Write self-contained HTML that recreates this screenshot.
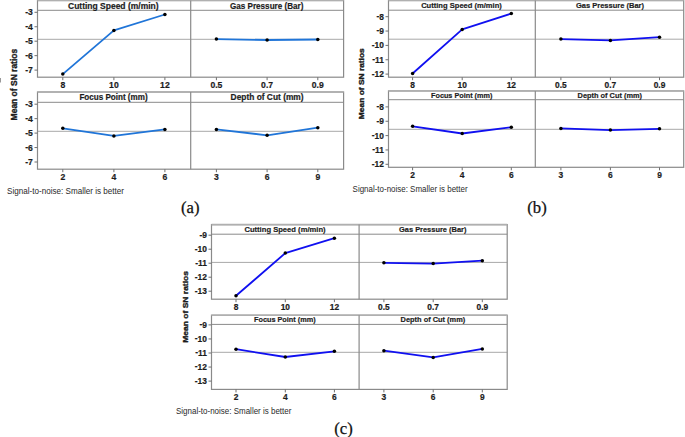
<!DOCTYPE html>
<html><head><meta charset="utf-8">
<style>
html,body{margin:0;padding:0;background:#fff;}
body{width:685px;height:437px;overflow:hidden;}
svg{display:block;}
.t{font-family:"Liberation Sans", sans-serif;font-weight:bold;fill:#1c1c1c;stroke:#1c1c1c;stroke-width:0.2px;}
.k{font-family:"Liberation Sans", sans-serif;font-weight:bold;fill:#1c1c1c;stroke:#1c1c1c;stroke-width:0.2px;}
.y{font-family:"Liberation Sans", sans-serif;font-weight:bold;fill:#1c1c1c;stroke:#1c1c1c;stroke-width:0.35px;}
.r{font-family:"Liberation Sans", sans-serif;font-size:9px;fill:#2a2a2a;}
.c{font-family:"Liberation Serif", serif;font-size:16.7px;fill:#111;stroke:#111;stroke-width:0.25px;}
</style></head><body>
<svg width="685" height="437" viewBox="0 0 685 437">
<rect width="685" height="437" fill="#fff"/>
<line x1="37.5" y1="39.3" x2="343.6" y2="39.3" stroke="#a8a8a8" stroke-width="1"/>
<rect x="37.5" y="0.5" width="306.1" height="76.7" fill="none" stroke="#8a8a8a" stroke-width="1.2"/>
<line x1="37.5" y1="0.5" x2="343.6" y2="0.5" stroke="#b0b0b0" stroke-width="1.6"/>
<line x1="37.5" y1="10.3" x2="343.6" y2="10.3" stroke="#8a8a8a" stroke-width="1"/>
<line x1="190.7" y1="0.5" x2="190.7" y2="77.2" stroke="#8a8a8a" stroke-width="1.2"/>
<line x1="34.5" y1="12.3" x2="37.5" y2="12.3" stroke="#707070" stroke-width="1"/>
<text x="32.9" y="15.4" text-anchor="end" class="k" style="font-size:8.6px"><tspan dy="-0.6">-</tspan><tspan dy="0.6">3</tspan></text>
<line x1="34.5" y1="26.75" x2="37.5" y2="26.75" stroke="#707070" stroke-width="1"/>
<text x="32.9" y="29.85" text-anchor="end" class="k" style="font-size:8.6px"><tspan dy="-0.6">-</tspan><tspan dy="0.6">4</tspan></text>
<line x1="34.5" y1="41.2" x2="37.5" y2="41.2" stroke="#707070" stroke-width="1"/>
<text x="32.9" y="44.3" text-anchor="end" class="k" style="font-size:8.6px"><tspan dy="-0.6">-</tspan><tspan dy="0.6">5</tspan></text>
<line x1="34.5" y1="55.65" x2="37.5" y2="55.65" stroke="#707070" stroke-width="1"/>
<text x="32.9" y="58.75" text-anchor="end" class="k" style="font-size:8.6px"><tspan dy="-0.6">-</tspan><tspan dy="0.6">6</tspan></text>
<line x1="34.5" y1="70.1" x2="37.5" y2="70.1" stroke="#707070" stroke-width="1"/>
<text x="32.9" y="73.2" text-anchor="end" class="k" style="font-size:8.6px"><tspan dy="-0.6">-</tspan><tspan dy="0.6">7</tspan></text>
<line x1="62.8" y1="77.2" x2="62.8" y2="80.2" stroke="#707070" stroke-width="1"/>
<text x="62.8" y="88.3" text-anchor="middle" class="k" style="font-size:8.6px">8</text>
<line x1="113.9" y1="77.2" x2="113.9" y2="80.2" stroke="#707070" stroke-width="1"/>
<text x="113.9" y="88.3" text-anchor="middle" class="k" style="font-size:8.6px">10</text>
<line x1="164.9" y1="77.2" x2="164.9" y2="80.2" stroke="#707070" stroke-width="1"/>
<text x="164.9" y="88.3" text-anchor="middle" class="k" style="font-size:8.6px">12</text>
<line x1="216.4" y1="77.2" x2="216.4" y2="80.2" stroke="#707070" stroke-width="1"/>
<text x="216.4" y="88.3" text-anchor="middle" class="k" style="font-size:8.6px">0.5</text>
<line x1="267.1" y1="77.2" x2="267.1" y2="80.2" stroke="#707070" stroke-width="1"/>
<text x="267.1" y="88.3" text-anchor="middle" class="k" style="font-size:8.6px">0.7</text>
<line x1="317.8" y1="77.2" x2="317.8" y2="80.2" stroke="#707070" stroke-width="1"/>
<text x="317.8" y="88.3" text-anchor="middle" class="k" style="font-size:8.6px">0.9</text>
<text x="113.3" y="8.6" text-anchor="middle" class="t" style="font-size:8.6px" textLength="90.6" lengthAdjust="spacingAndGlyphs">Cutting Speed (m/min)</text>
<text x="266.7" y="8.6" text-anchor="middle" class="t" style="font-size:8.6px" textLength="73.4" lengthAdjust="spacingAndGlyphs">Gas Pressure (Bar)</text>
<polyline points="62.8,74.1 113.9,30.4 164.9,14.5" fill="none" stroke="#2075d8" stroke-width="1.8" stroke-linejoin="round"/>
<circle cx="62.8" cy="74.1" r="1.75" fill="#000"/>
<circle cx="113.9" cy="30.4" r="1.75" fill="#000"/>
<circle cx="164.9" cy="14.5" r="1.75" fill="#000"/>
<polyline points="216.4,39.1 267.1,40 317.8,39.5" fill="none" stroke="#2075d8" stroke-width="1.8" stroke-linejoin="round"/>
<circle cx="216.4" cy="39.1" r="1.75" fill="#000"/>
<circle cx="267.1" cy="40" r="1.75" fill="#000"/>
<circle cx="317.8" cy="39.5" r="1.75" fill="#000"/>
<line x1="37.5" y1="131.3" x2="343.6" y2="131.3" stroke="#a8a8a8" stroke-width="1"/>
<rect x="37.5" y="92" width="306.1" height="77.2" fill="none" stroke="#8a8a8a" stroke-width="1.2"/>
<line x1="37.5" y1="92" x2="343.6" y2="92" stroke="#b0b0b0" stroke-width="1.6"/>
<line x1="37.5" y1="102.3" x2="343.6" y2="102.3" stroke="#8a8a8a" stroke-width="1"/>
<line x1="190.7" y1="92" x2="190.7" y2="169.2" stroke="#8a8a8a" stroke-width="1.2"/>
<line x1="34.5" y1="104.2" x2="37.5" y2="104.2" stroke="#707070" stroke-width="1"/>
<text x="32.9" y="107.3" text-anchor="end" class="k" style="font-size:8.6px"><tspan dy="-0.6">-</tspan><tspan dy="0.6">3</tspan></text>
<line x1="34.5" y1="118.65" x2="37.5" y2="118.65" stroke="#707070" stroke-width="1"/>
<text x="32.9" y="121.75" text-anchor="end" class="k" style="font-size:8.6px"><tspan dy="-0.6">-</tspan><tspan dy="0.6">4</tspan></text>
<line x1="34.5" y1="133.1" x2="37.5" y2="133.1" stroke="#707070" stroke-width="1"/>
<text x="32.9" y="136.2" text-anchor="end" class="k" style="font-size:8.6px"><tspan dy="-0.6">-</tspan><tspan dy="0.6">5</tspan></text>
<line x1="34.5" y1="147.55" x2="37.5" y2="147.55" stroke="#707070" stroke-width="1"/>
<text x="32.9" y="150.65" text-anchor="end" class="k" style="font-size:8.6px"><tspan dy="-0.6">-</tspan><tspan dy="0.6">6</tspan></text>
<line x1="34.5" y1="162" x2="37.5" y2="162" stroke="#707070" stroke-width="1"/>
<text x="32.9" y="165.1" text-anchor="end" class="k" style="font-size:8.6px"><tspan dy="-0.6">-</tspan><tspan dy="0.6">7</tspan></text>
<line x1="62.8" y1="169.2" x2="62.8" y2="172.2" stroke="#707070" stroke-width="1"/>
<text x="62.8" y="180" text-anchor="middle" class="k" style="font-size:8.6px">2</text>
<line x1="113.9" y1="169.2" x2="113.9" y2="172.2" stroke="#707070" stroke-width="1"/>
<text x="113.9" y="180" text-anchor="middle" class="k" style="font-size:8.6px">4</text>
<line x1="164.9" y1="169.2" x2="164.9" y2="172.2" stroke="#707070" stroke-width="1"/>
<text x="164.9" y="180" text-anchor="middle" class="k" style="font-size:8.6px">6</text>
<line x1="216.4" y1="169.2" x2="216.4" y2="172.2" stroke="#707070" stroke-width="1"/>
<text x="216.4" y="180" text-anchor="middle" class="k" style="font-size:8.6px">3</text>
<line x1="267.1" y1="169.2" x2="267.1" y2="172.2" stroke="#707070" stroke-width="1"/>
<text x="267.1" y="180" text-anchor="middle" class="k" style="font-size:8.6px">6</text>
<line x1="317.8" y1="169.2" x2="317.8" y2="172.2" stroke="#707070" stroke-width="1"/>
<text x="317.8" y="180" text-anchor="middle" class="k" style="font-size:8.6px">9</text>
<text x="113.5" y="100" text-anchor="middle" class="t" style="font-size:8.6px" textLength="68.2" lengthAdjust="spacingAndGlyphs">Focus Point (mm)</text>
<text x="267.1" y="100" text-anchor="middle" class="t" style="font-size:8.6px" textLength="73" lengthAdjust="spacingAndGlyphs">Depth of Cut (mm)</text>
<polyline points="62.8,128.3 113.9,135.9 164.9,129.4" fill="none" stroke="#2075d8" stroke-width="1.8" stroke-linejoin="round"/>
<circle cx="62.8" cy="128.3" r="1.75" fill="#000"/>
<circle cx="113.9" cy="135.9" r="1.75" fill="#000"/>
<circle cx="164.9" cy="129.4" r="1.75" fill="#000"/>
<polyline points="216.4,129.4 267.1,135.3 317.8,127.7" fill="none" stroke="#2075d8" stroke-width="1.8" stroke-linejoin="round"/>
<circle cx="216.4" cy="129.4" r="1.75" fill="#000"/>
<circle cx="267.1" cy="135.3" r="1.75" fill="#000"/>
<circle cx="317.8" cy="127.7" r="1.75" fill="#000"/>
<text transform="translate(17,84.6) rotate(-90)" text-anchor="middle" class="y" style="font-size:8.6px" textLength="71.6" lengthAdjust="spacingAndGlyphs">Mean of SN ratios</text>
<text x="7" y="194.4" class="r" textLength="117" lengthAdjust="spacingAndGlyphs">Signal-to-noise: Smaller is better</text>
<text x="190.3" y="212.5" text-anchor="middle" class="c">(a)</text>
<line x1="388.5" y1="39.2" x2="683.7" y2="39.2" stroke="#a8a8a8" stroke-width="1"/>
<rect x="388.5" y="0.5" width="295.2" height="76.7" fill="none" stroke="#8a8a8a" stroke-width="1.2"/>
<line x1="388.5" y1="0.5" x2="683.7" y2="0.5" stroke="#b0b0b0" stroke-width="1.6"/>
<line x1="388.5" y1="10.2" x2="683.7" y2="10.2" stroke="#8a8a8a" stroke-width="1"/>
<line x1="535.3" y1="0.5" x2="535.3" y2="77.2" stroke="#8a8a8a" stroke-width="1.2"/>
<line x1="385.5" y1="16.7" x2="388.5" y2="16.7" stroke="#707070" stroke-width="1"/>
<text x="383.9" y="19.72" text-anchor="end" class="k" style="font-size:8.4px"><tspan dy="-0.6">-</tspan><tspan dy="0.6">8</tspan></text>
<line x1="385.5" y1="31.05" x2="388.5" y2="31.05" stroke="#707070" stroke-width="1"/>
<text x="383.9" y="34.07" text-anchor="end" class="k" style="font-size:8.4px"><tspan dy="-0.6">-</tspan><tspan dy="0.6">9</tspan></text>
<line x1="385.5" y1="45.4" x2="388.5" y2="45.4" stroke="#707070" stroke-width="1"/>
<text x="383.9" y="48.42" text-anchor="end" class="k" style="font-size:8.4px"><tspan dy="-0.6">-</tspan><tspan dy="0.6">10</tspan></text>
<line x1="385.5" y1="59.75" x2="388.5" y2="59.75" stroke="#707070" stroke-width="1"/>
<text x="383.9" y="62.77" text-anchor="end" class="k" style="font-size:8.4px"><tspan dy="-0.6">-</tspan><tspan dy="0.6">11</tspan></text>
<line x1="385.5" y1="74.1" x2="388.5" y2="74.1" stroke="#707070" stroke-width="1"/>
<text x="383.9" y="77.12" text-anchor="end" class="k" style="font-size:8.4px"><tspan dy="-0.6">-</tspan><tspan dy="0.6">12</tspan></text>
<line x1="412.6" y1="77.2" x2="412.6" y2="80.2" stroke="#707070" stroke-width="1"/>
<text x="412.6" y="87.92" text-anchor="middle" class="k" style="font-size:8.4px">8</text>
<line x1="462.2" y1="77.2" x2="462.2" y2="80.2" stroke="#707070" stroke-width="1"/>
<text x="462.2" y="87.92" text-anchor="middle" class="k" style="font-size:8.4px">10</text>
<line x1="511.3" y1="77.2" x2="511.3" y2="80.2" stroke="#707070" stroke-width="1"/>
<text x="511.3" y="87.92" text-anchor="middle" class="k" style="font-size:8.4px">12</text>
<line x1="560.9" y1="77.2" x2="560.9" y2="80.2" stroke="#707070" stroke-width="1"/>
<text x="560.9" y="87.92" text-anchor="middle" class="k" style="font-size:8.4px">0.5</text>
<line x1="610.4" y1="77.2" x2="610.4" y2="80.2" stroke="#707070" stroke-width="1"/>
<text x="610.4" y="87.92" text-anchor="middle" class="k" style="font-size:8.4px">0.7</text>
<line x1="659.5" y1="77.2" x2="659.5" y2="80.2" stroke="#707070" stroke-width="1"/>
<text x="659.5" y="87.92" text-anchor="middle" class="k" style="font-size:8.4px">0.9</text>
<text x="461.5" y="7.8" text-anchor="middle" class="t" style="font-size:8.0px" textLength="80.7" lengthAdjust="spacingAndGlyphs">Cutting Speed (m/min)</text>
<text x="610" y="7.8" text-anchor="middle" class="t" style="font-size:8.0px" textLength="68" lengthAdjust="spacingAndGlyphs">Gas Pressure (Bar)</text>
<polyline points="412.6,73.5 462.2,29.4 511.3,13.6" fill="none" stroke="#1010f0" stroke-width="1.8" stroke-linejoin="round"/>
<circle cx="412.6" cy="73.5" r="1.75" fill="#000"/>
<circle cx="462.2" cy="29.4" r="1.75" fill="#000"/>
<circle cx="511.3" cy="13.6" r="1.75" fill="#000"/>
<polyline points="560.9,39.1 610.4,40.4 659.5,37.2" fill="none" stroke="#1010f0" stroke-width="1.8" stroke-linejoin="round"/>
<circle cx="560.9" cy="39.1" r="1.75" fill="#000"/>
<circle cx="610.4" cy="40.4" r="1.75" fill="#000"/>
<circle cx="659.5" cy="37.2" r="1.75" fill="#000"/>
<line x1="388.5" y1="129.3" x2="683.7" y2="129.3" stroke="#a8a8a8" stroke-width="1"/>
<rect x="388.5" y="90.9" width="295.2" height="76.4" fill="none" stroke="#8a8a8a" stroke-width="1.2"/>
<line x1="388.5" y1="90.9" x2="683.7" y2="90.9" stroke="#b0b0b0" stroke-width="1.6"/>
<line x1="388.5" y1="99.7" x2="683.7" y2="99.7" stroke="#8a8a8a" stroke-width="1"/>
<line x1="535.3" y1="90.9" x2="535.3" y2="167.3" stroke="#8a8a8a" stroke-width="1.2"/>
<line x1="385.5" y1="106.9" x2="388.5" y2="106.9" stroke="#707070" stroke-width="1"/>
<text x="383.9" y="109.92" text-anchor="end" class="k" style="font-size:8.4px"><tspan dy="-0.6">-</tspan><tspan dy="0.6">8</tspan></text>
<line x1="385.5" y1="121.25" x2="388.5" y2="121.25" stroke="#707070" stroke-width="1"/>
<text x="383.9" y="124.27" text-anchor="end" class="k" style="font-size:8.4px"><tspan dy="-0.6">-</tspan><tspan dy="0.6">9</tspan></text>
<line x1="385.5" y1="135.6" x2="388.5" y2="135.6" stroke="#707070" stroke-width="1"/>
<text x="383.9" y="138.62" text-anchor="end" class="k" style="font-size:8.4px"><tspan dy="-0.6">-</tspan><tspan dy="0.6">10</tspan></text>
<line x1="385.5" y1="149.95" x2="388.5" y2="149.95" stroke="#707070" stroke-width="1"/>
<text x="383.9" y="152.97" text-anchor="end" class="k" style="font-size:8.4px"><tspan dy="-0.6">-</tspan><tspan dy="0.6">11</tspan></text>
<line x1="385.5" y1="164.3" x2="388.5" y2="164.3" stroke="#707070" stroke-width="1"/>
<text x="383.9" y="167.32" text-anchor="end" class="k" style="font-size:8.4px"><tspan dy="-0.6">-</tspan><tspan dy="0.6">12</tspan></text>
<line x1="412.6" y1="167.3" x2="412.6" y2="170.3" stroke="#707070" stroke-width="1"/>
<text x="412.6" y="178.02" text-anchor="middle" class="k" style="font-size:8.4px">2</text>
<line x1="462.2" y1="167.3" x2="462.2" y2="170.3" stroke="#707070" stroke-width="1"/>
<text x="462.2" y="178.02" text-anchor="middle" class="k" style="font-size:8.4px">4</text>
<line x1="511.3" y1="167.3" x2="511.3" y2="170.3" stroke="#707070" stroke-width="1"/>
<text x="511.3" y="178.02" text-anchor="middle" class="k" style="font-size:8.4px">6</text>
<line x1="560.9" y1="167.3" x2="560.9" y2="170.3" stroke="#707070" stroke-width="1"/>
<text x="560.9" y="178.02" text-anchor="middle" class="k" style="font-size:8.4px">3</text>
<line x1="610.4" y1="167.3" x2="610.4" y2="170.3" stroke="#707070" stroke-width="1"/>
<text x="610.4" y="178.02" text-anchor="middle" class="k" style="font-size:8.4px">6</text>
<line x1="659.5" y1="167.3" x2="659.5" y2="170.3" stroke="#707070" stroke-width="1"/>
<text x="659.5" y="178.02" text-anchor="middle" class="k" style="font-size:8.4px">9</text>
<text x="461.7" y="97.6" text-anchor="middle" class="t" style="font-size:8.0px" textLength="61.4" lengthAdjust="spacingAndGlyphs">Focus Point (mm)</text>
<text x="609.8" y="97.6" text-anchor="middle" class="t" style="font-size:8.0px" textLength="64.4" lengthAdjust="spacingAndGlyphs">Depth of Cut (mm)</text>
<polyline points="412.6,126.3 462.2,133.5 511.3,127.3" fill="none" stroke="#1010f0" stroke-width="1.8" stroke-linejoin="round"/>
<circle cx="412.6" cy="126.3" r="1.75" fill="#000"/>
<circle cx="462.2" cy="133.5" r="1.75" fill="#000"/>
<circle cx="511.3" cy="127.3" r="1.75" fill="#000"/>
<polyline points="560.9,128.4 610.4,130.1 659.5,128.8" fill="none" stroke="#1010f0" stroke-width="1.8" stroke-linejoin="round"/>
<circle cx="560.9" cy="128.4" r="1.75" fill="#000"/>
<circle cx="610.4" cy="130.1" r="1.75" fill="#000"/>
<circle cx="659.5" cy="128.8" r="1.75" fill="#000"/>
<text transform="translate(364.4,83.7) rotate(-90)" text-anchor="middle" class="y" style="font-size:8.0px" textLength="70.9" lengthAdjust="spacingAndGlyphs">Mean of SN ratios</text>
<text x="352.6" y="192.4" class="r" textLength="115" lengthAdjust="spacingAndGlyphs">Signal-to-noise: Smaller is better</text>
<text x="537" y="212.6" text-anchor="middle" class="c">(b)</text>
<line x1="211.5" y1="262.4" x2="507.2" y2="262.4" stroke="#a8a8a8" stroke-width="1"/>
<rect x="211.5" y="224.6" width="295.7" height="74.6" fill="none" stroke="#8a8a8a" stroke-width="1.2"/>
<line x1="211.5" y1="224.6" x2="507.2" y2="224.6" stroke="#b0b0b0" stroke-width="1.6"/>
<line x1="211.5" y1="234.2" x2="507.2" y2="234.2" stroke="#8a8a8a" stroke-width="1"/>
<line x1="359.1" y1="224.6" x2="359.1" y2="299.2" stroke="#8a8a8a" stroke-width="1.2"/>
<line x1="208.5" y1="235.2" x2="211.5" y2="235.2" stroke="#707070" stroke-width="1"/>
<text x="206.9" y="238.22" text-anchor="end" class="k" style="font-size:8.4px"><tspan dy="-0.6">-</tspan><tspan dy="0.6">9</tspan></text>
<line x1="208.5" y1="249.2" x2="211.5" y2="249.2" stroke="#707070" stroke-width="1"/>
<text x="206.9" y="252.22" text-anchor="end" class="k" style="font-size:8.4px"><tspan dy="-0.6">-</tspan><tspan dy="0.6">10</tspan></text>
<line x1="208.5" y1="263.2" x2="211.5" y2="263.2" stroke="#707070" stroke-width="1"/>
<text x="206.9" y="266.22" text-anchor="end" class="k" style="font-size:8.4px"><tspan dy="-0.6">-</tspan><tspan dy="0.6">11</tspan></text>
<line x1="208.5" y1="277.2" x2="211.5" y2="277.2" stroke="#707070" stroke-width="1"/>
<text x="206.9" y="280.22" text-anchor="end" class="k" style="font-size:8.4px"><tspan dy="-0.6">-</tspan><tspan dy="0.6">12</tspan></text>
<line x1="208.5" y1="291.2" x2="211.5" y2="291.2" stroke="#707070" stroke-width="1"/>
<text x="206.9" y="294.22" text-anchor="end" class="k" style="font-size:8.4px"><tspan dy="-0.6">-</tspan><tspan dy="0.6">13</tspan></text>
<line x1="236" y1="299.2" x2="236" y2="302.2" stroke="#707070" stroke-width="1"/>
<text x="236" y="309.52" text-anchor="middle" class="k" style="font-size:8.4px">8</text>
<line x1="285.3" y1="299.2" x2="285.3" y2="302.2" stroke="#707070" stroke-width="1"/>
<text x="285.3" y="309.52" text-anchor="middle" class="k" style="font-size:8.4px">10</text>
<line x1="334.4" y1="299.2" x2="334.4" y2="302.2" stroke="#707070" stroke-width="1"/>
<text x="334.4" y="309.52" text-anchor="middle" class="k" style="font-size:8.4px">12</text>
<line x1="383.9" y1="299.2" x2="383.9" y2="302.2" stroke="#707070" stroke-width="1"/>
<text x="383.9" y="309.52" text-anchor="middle" class="k" style="font-size:8.4px">0.5</text>
<line x1="433.2" y1="299.2" x2="433.2" y2="302.2" stroke="#707070" stroke-width="1"/>
<text x="433.2" y="309.52" text-anchor="middle" class="k" style="font-size:8.4px">0.7</text>
<line x1="482.3" y1="299.2" x2="482.3" y2="302.2" stroke="#707070" stroke-width="1"/>
<text x="482.3" y="309.52" text-anchor="middle" class="k" style="font-size:8.4px">0.9</text>
<text x="285" y="232" text-anchor="middle" class="t" style="font-size:8.0px" textLength="81.2" lengthAdjust="spacingAndGlyphs">Cutting Speed (m/min)</text>
<text x="432.7" y="232" text-anchor="middle" class="t" style="font-size:8.0px" textLength="67.4" lengthAdjust="spacingAndGlyphs">Gas Pressure (Bar)</text>
<polyline points="236,295.8 285.3,253.1 334.4,238.2" fill="none" stroke="#1010f0" stroke-width="1.8" stroke-linejoin="round"/>
<circle cx="236" cy="295.8" r="1.75" fill="#000"/>
<circle cx="285.3" cy="253.1" r="1.75" fill="#000"/>
<circle cx="334.4" cy="238.2" r="1.75" fill="#000"/>
<polyline points="383.9,262.8 433.2,263.6 482.3,260.7" fill="none" stroke="#1010f0" stroke-width="1.8" stroke-linejoin="round"/>
<circle cx="383.9" cy="262.8" r="1.75" fill="#000"/>
<circle cx="433.2" cy="263.6" r="1.75" fill="#000"/>
<circle cx="482.3" cy="260.7" r="1.75" fill="#000"/>
<line x1="211.5" y1="352.3" x2="507.2" y2="352.3" stroke="#a8a8a8" stroke-width="1"/>
<rect x="211.5" y="315.2" width="295.7" height="74.2" fill="none" stroke="#8a8a8a" stroke-width="1.2"/>
<line x1="211.5" y1="315.2" x2="507.2" y2="315.2" stroke="#b0b0b0" stroke-width="1.6"/>
<line x1="211.5" y1="324.4" x2="507.2" y2="324.4" stroke="#8a8a8a" stroke-width="1"/>
<line x1="359.1" y1="315.2" x2="359.1" y2="389.4" stroke="#8a8a8a" stroke-width="1.2"/>
<line x1="208.5" y1="324.9" x2="211.5" y2="324.9" stroke="#707070" stroke-width="1"/>
<text x="206.9" y="327.92" text-anchor="end" class="k" style="font-size:8.4px"><tspan dy="-0.6">-</tspan><tspan dy="0.6">9</tspan></text>
<line x1="208.5" y1="338.95" x2="211.5" y2="338.95" stroke="#707070" stroke-width="1"/>
<text x="206.9" y="341.97" text-anchor="end" class="k" style="font-size:8.4px"><tspan dy="-0.6">-</tspan><tspan dy="0.6">10</tspan></text>
<line x1="208.5" y1="353" x2="211.5" y2="353" stroke="#707070" stroke-width="1"/>
<text x="206.9" y="356.02" text-anchor="end" class="k" style="font-size:8.4px"><tspan dy="-0.6">-</tspan><tspan dy="0.6">11</tspan></text>
<line x1="208.5" y1="367.05" x2="211.5" y2="367.05" stroke="#707070" stroke-width="1"/>
<text x="206.9" y="370.07" text-anchor="end" class="k" style="font-size:8.4px"><tspan dy="-0.6">-</tspan><tspan dy="0.6">12</tspan></text>
<line x1="208.5" y1="381.1" x2="211.5" y2="381.1" stroke="#707070" stroke-width="1"/>
<text x="206.9" y="384.12" text-anchor="end" class="k" style="font-size:8.4px"><tspan dy="-0.6">-</tspan><tspan dy="0.6">13</tspan></text>
<line x1="236" y1="389.4" x2="236" y2="392.4" stroke="#707070" stroke-width="1"/>
<text x="236" y="400.32" text-anchor="middle" class="k" style="font-size:8.4px">2</text>
<line x1="285.3" y1="389.4" x2="285.3" y2="392.4" stroke="#707070" stroke-width="1"/>
<text x="285.3" y="400.32" text-anchor="middle" class="k" style="font-size:8.4px">4</text>
<line x1="334.4" y1="389.4" x2="334.4" y2="392.4" stroke="#707070" stroke-width="1"/>
<text x="334.4" y="400.32" text-anchor="middle" class="k" style="font-size:8.4px">6</text>
<line x1="383.9" y1="389.4" x2="383.9" y2="392.4" stroke="#707070" stroke-width="1"/>
<text x="383.9" y="400.32" text-anchor="middle" class="k" style="font-size:8.4px">3</text>
<line x1="433.2" y1="389.4" x2="433.2" y2="392.4" stroke="#707070" stroke-width="1"/>
<text x="433.2" y="400.32" text-anchor="middle" class="k" style="font-size:8.4px">6</text>
<line x1="482.3" y1="389.4" x2="482.3" y2="392.4" stroke="#707070" stroke-width="1"/>
<text x="482.3" y="400.32" text-anchor="middle" class="k" style="font-size:8.4px">9</text>
<text x="284.8" y="322.4" text-anchor="middle" class="t" style="font-size:8.0px" textLength="61.6" lengthAdjust="spacingAndGlyphs">Focus Point (mm)</text>
<text x="432.9" y="322.4" text-anchor="middle" class="t" style="font-size:8.0px" textLength="64.6" lengthAdjust="spacingAndGlyphs">Depth of Cut (mm)</text>
<polyline points="236,349.2 285.3,357 334.4,351.3" fill="none" stroke="#1010f0" stroke-width="1.8" stroke-linejoin="round"/>
<circle cx="236" cy="349.2" r="1.75" fill="#000"/>
<circle cx="285.3" cy="357" r="1.75" fill="#000"/>
<circle cx="334.4" cy="351.3" r="1.75" fill="#000"/>
<polyline points="383.9,350.7 433.2,357.4 482.3,348.9" fill="none" stroke="#1010f0" stroke-width="1.8" stroke-linejoin="round"/>
<circle cx="383.9" cy="350.7" r="1.75" fill="#000"/>
<circle cx="433.2" cy="357.4" r="1.75" fill="#000"/>
<circle cx="482.3" cy="348.9" r="1.75" fill="#000"/>
<text transform="translate(187.5,306.9) rotate(-90)" text-anchor="middle" class="y" style="font-size:8.0px" textLength="71.7" lengthAdjust="spacingAndGlyphs">Mean of SN ratios</text>
<text x="176" y="414" class="r" textLength="115.4" lengthAdjust="spacingAndGlyphs">Signal-to-noise: Smaller is better</text>
<text x="343.5" y="434" text-anchor="middle" class="c">(c)</text>
<line x1="0.5" y1="78" x2="0.5" y2="82.5" stroke="#999" stroke-width="1"/>
</svg>
</body></html>
